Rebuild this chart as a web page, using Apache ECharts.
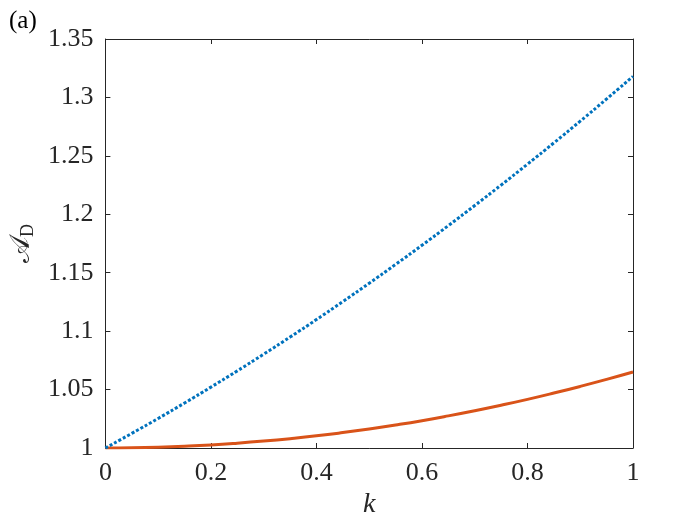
<!DOCTYPE html>
<html>
<head>
<meta charset="utf-8">
<script src="https://cdn.jsdelivr.net/npm/echarts@6/dist/echarts.min.js"></script>
<style>html,body{margin:0;padding:0;background:#fff;}#c{width:700px;height:525px;}</style>
</head>
<body>
<div id="c"></div>
<script>
var kValues = [0, 0.05, 0.1, 0.15, 0.2, 0.25, 0.3, 0.35, 0.4, 0.45, 0.5, 0.55, 0.6, 0.65, 0.7, 0.75, 0.8, 0.85, 0.9, 0.95, 1];
var blueValues = [1.0000, 1.0125, 1.0253, 1.0385, 1.0521, 1.0660, 1.0803, 1.0949, 1.1099, 1.1253, 1.1410, 1.1571, 1.1735, 1.1903, 1.2075, 1.2250, 1.2429, 1.2611, 1.2797, 1.2987, 1.3180];
var orangeValues = [1.0000, 1.0002, 1.0007, 1.0015, 1.0026, 1.0041, 1.0059, 1.0080, 1.0104, 1.0132, 1.0163, 1.0197, 1.0234, 1.0275, 1.0319, 1.0366, 1.0416, 1.0470, 1.0527, 1.0587, 1.0650];
var xTicks = [0, 0.2, 0.4, 0.6, 0.8, 1];
var yTicks = [1, 1.05, 1.1, 1.15, 1.2, 1.25, 1.3, 1.35];

function pairs(xs, ys){ return xs.map(function(x,i){ return [x, ys[i]]; }); }

var font = '"Liberation Serif", "DejaVu Serif", serif';
var axisColor = '#262626';
var chart = echarts.init(document.getElementById('c'), null, {renderer:'canvas'});
var baseAxis = {
  axisLine: {show: true, onZero: false, lineStyle: {color: axisColor, width: 1}},
  axisTick: {show: true, inside: true, length: 5, lineStyle: {color: axisColor}},
  splitLine: {show: false}
};
chart.setOption({
  animation: false,
  backgroundColor: '#ffffff',
  title: {text: '(a)', left: 4, top: 4, textStyle: {fontFamily: font, fontWeight: 'normal', fontSize: 25, color: '#000'}},
  grid: {left: 97, top: 39, right: 67, bottom: 77, containLabel: false},
  xAxis: [
    Object.assign({}, baseAxis, {
      type: 'value', min: 0, max: 1, interval: 0.2, position: 'bottom',
      axisLabel: {fontFamily: font, fontSize: 26, color: axisColor, margin: 12,
        formatter: function(v){ return String(+v.toFixed(2)); }},
      name: 'k', nameLocation: 'middle', nameGap: 42,
      nameTextStyle: {fontFamily: font, fontStyle: 'italic', fontSize: 28, color: axisColor}
    }),
    Object.assign({}, baseAxis, {
      type: 'value', min: 0, max: 1, interval: 0.2, position: 'top',
      axisLabel: {show: false}
    })
  ],
  yAxis: [
    Object.assign({}, baseAxis, {
      type: 'value', min: 1, max: 1.35, interval: 0.05, position: 'left',
      axisLabel: {fontFamily: font, fontSize: 26, color: axisColor, margin: 12,
        formatter: function(v){ return String(+v.toFixed(2)); }},
      name: '{a|𝒜}{d|D}', nameLocation: 'middle', nameGap: 64, nameRotate: 90,
      nameTextStyle: {
        rich: {
          a: {fontFamily: '"DejaVu Serif", "DejaVu Sans", serif', fontSize: 28, color: axisColor},
          d: {fontFamily: font, fontSize: 18, color: axisColor, verticalAlign: 'bottom', padding: [12, 0, 0, 0]}
        }
      }
    }),
    Object.assign({}, baseAxis, {
      type: 'value', min: 1, max: 1.35, interval: 0.05, position: 'right',
      axisLabel: {show: false}
    })
  ],
  series: [
    {type: 'line', data: pairs(kValues, blueValues), showSymbol: false, smooth: true,
     lineStyle: {color: '#0072BD', width: 3, type: [3, 2]}, z: 3},
    {type: 'line', data: pairs(kValues, orangeValues), showSymbol: false, smooth: true,
     lineStyle: {color: '#D95319', width: 3, type: 'solid'}, z: 2}
  ]
});
</script>
</body>
</html>
